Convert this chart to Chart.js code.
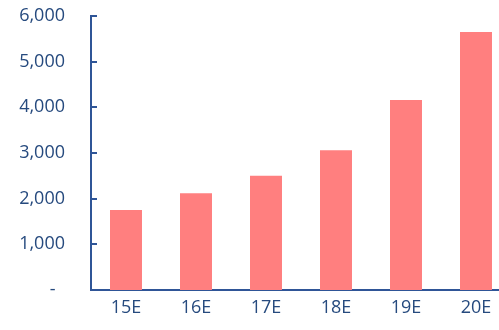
<!DOCTYPE html>
<html>
<head>
<meta charset="utf-8">
<script src="https://cdn.jsdelivr.net/npm/chart.js@4"></script>
<style>
  html, body { margin: 0; padding: 0; background: #fff; overflow: hidden; }
  #wrap { width: 499px; height: 330px; overflow: hidden; }
</style>
</head>
<body>
<div id="wrap"><canvas id="chart" width="511" height="330"></canvas></div>
<script>
const categories = ["15E", "16E", "17E", "18E", "19E", "20E"];
const values = [1750, 2120, 2500, 3060, 4160, 5650];
const yTickLabels = ["-  ", "1,000", "2,000", "3,000", "4,000", "5,000", "6,000"];

const textColor = "#264A7E";
const axisColor = "#2F5597";

// Excel style tick marks pointing into the plot
const insideTicks = {
    id: "insideTicks",
    afterDraw(chart) {
        const y = chart.scales.y;
        const ctx = chart.ctx;
        const left = chart.chartArea.left;
        ctx.save();
        ctx.strokeStyle = axisColor;
        ctx.lineWidth = 2;
        y.ticks.forEach(t => {
            const py = Math.round(y.getPixelForValue(t.value));
            ctx.beginPath();
            ctx.moveTo(left, py);
            ctx.lineTo(left + 6, py);
            ctx.stroke();
        });
        ctx.restore();
    }
};

new Chart(document.getElementById("chart"), {
    type: "bar",
    data: {
        labels: categories,
        datasets: [{
            data: values,
            backgroundColor: "#FF7F7F",
            borderWidth: 0,
            barPercentage: 0.457,
            categoryPercentage: 1
        }]
    },
    options: {
        responsive: false,
        animation: false,
        devicePixelRatio: 1,
        layout: { padding: { top: 16, right: 0, left: 0, bottom: 0 } },
        plugins: { legend: { display: false }, tooltip: { enabled: false } },
        scales: {
            x: {
                grid: { display: false, drawTicks: false },
                border: { display: true, color: axisColor, width: 2 },
                ticks: {
                    color: textColor,
                    font: { family: "'Open Sans', sans-serif", size: 18 },
                    padding: 7,
                    maxRotation: 0
                },
                afterFit: s => { s.height = 40; s.paddingLeft = 0; s.paddingRight = 0; }
            },
            y: {
                min: 0,
                max: 6000,
                grid: { display: false, drawTicks: false },
                border: { display: true, color: axisColor, width: 2 },
                ticks: {
                    stepSize: 1000,
                    color: textColor,
                    font: { family: "'Open Sans', sans-serif", size: 18 },
                    padding: 26,
                    callback: (v, i) => yTickLabels[i]
                },
                afterFit: s => { s.width = 91; s.paddingTop = 0; s.paddingBottom = 0; }
            }
        }
    },
    plugins: [insideTicks]
});
</script>
</body>
</html>
